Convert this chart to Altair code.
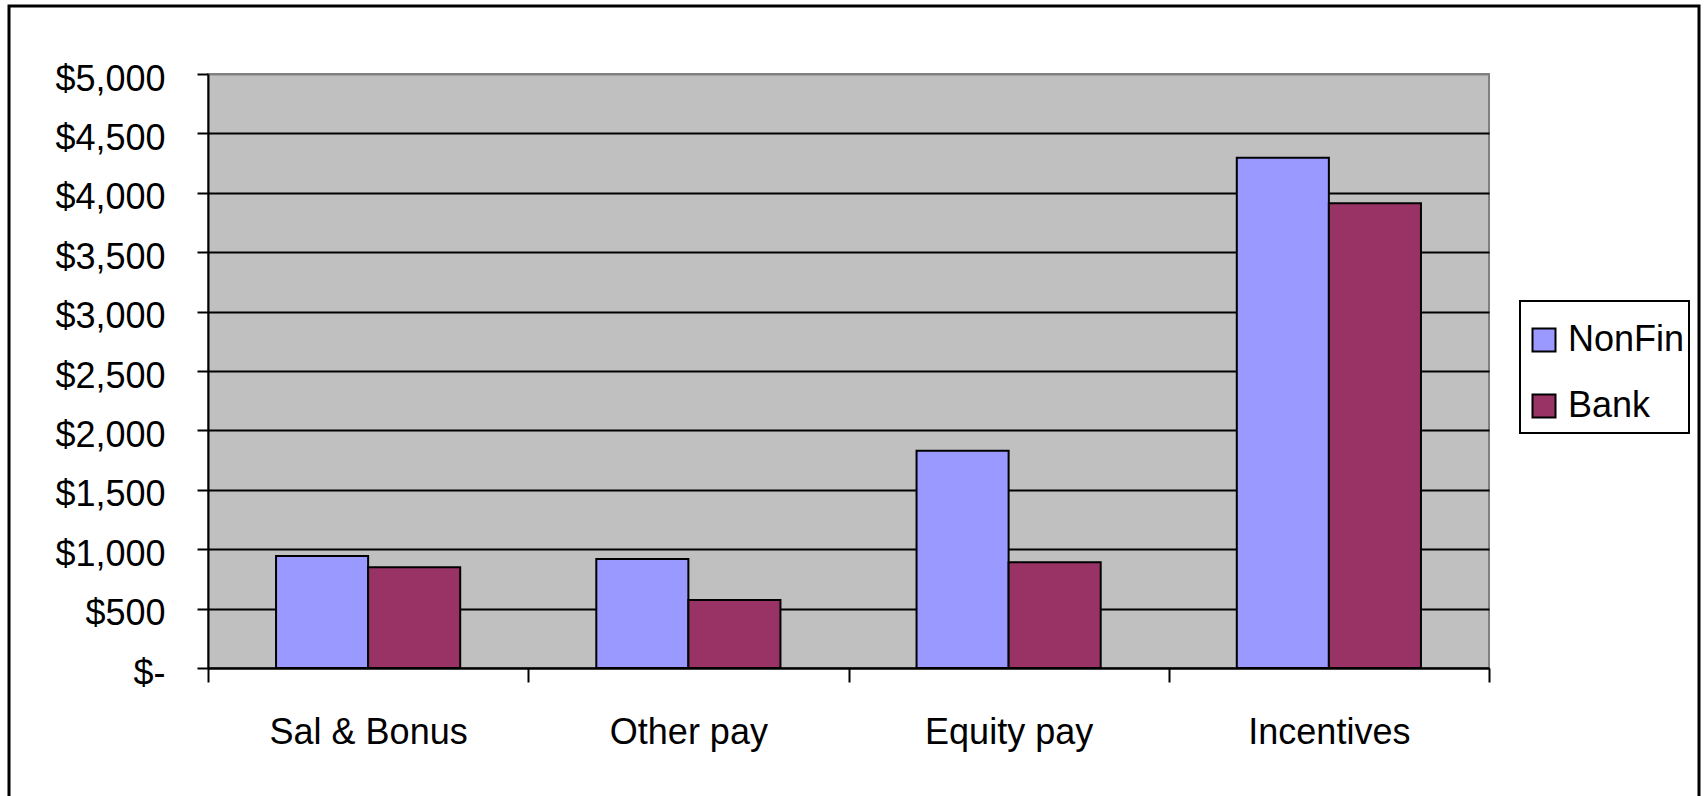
import altair as alt
import pandas as pd

categories = ["Sal & Bonus", "Other pay", "Equity pay", "Incentives"]
series = ["NonFin", "Bank"]
nonfin = [943, 917, 1829, 4296]
bank = [848, 572, 890, 3912]
colors = ["#9999FF", "#993366"]
y_ticks = [0, 500, 1000, 1500, 2000, 2500, 3000, 3500, 4000, 4500, 5000]

rows = []
for c, a, b in zip(categories, nonfin, bank):
    rows.append({"cat": c, "series": "NonFin", "value": a})
    rows.append({"cat": c, "series": "Bank", "value": b})
df = pd.DataFrame(rows)

FONT = "Liberation Sans"

bars = alt.Chart(df).mark_bar(stroke="black", strokeWidth=2, clip=False).encode(
    x=alt.X("cat:N", sort=categories,
            scale=alt.Scale(paddingInner=0, paddingOuter=0),
            axis=alt.Axis(title=None, labelAngle=0, labelFont=FONT, labelFontSize=36,
                          labelColor="black", labelPadding=33, labelLimit=0,
                          tickBand="extent",
                          tickSize=14, tickWidth=2, tickColor="black",
                          domainColor="black", domainWidth=2, grid=False)),
    xOffset=alt.XOffset("series:N", sort=series,
                        scale=alt.Scale(paddingOuter=0.739, paddingInner=0)),
    y=alt.Y("value:Q", scale=alt.Scale(domain=[0, 5000], nice=False),
            axis=alt.Axis(title=None, values=y_ticks, labelFont=FONT, labelFontSize=36,
                          labelColor="black", labelPadding=32, labelOffset=5, labelLimit=0,
                          labelExpr="datum.value == 0 ? '$-\u00a0\u00a0\u00a0\u00a0' : '$' + format(datum.value, ',')",
                          tickSize=11, tickWidth=2, tickColor="black",
                          domainColor="black", domainWidth=2,
                          grid=True,
                          gridColor=alt.condition("datum.value == 5000", alt.value("#808080"), alt.value("black")),
                          gridWidth=2)),
    fill=alt.Fill("series:N", sort=series,
                  scale=alt.Scale(domain=series, range=colors),
                  legend=alt.Legend(title=None, orient="none", legendX=1318, legendY=248,
                                    labelFont=FONT, labelFontSize=36, labelColor="black",
                                    labelLimit=0,
                                    symbolType="square", symbolSize=529,
                                    symbolStrokeColor="black", symbolStrokeWidth=2,
                                    symbolOpacity=1,
                                    labelOffset=6, rowPadding=30, padding=0)),
)

legend_box = alt.Chart(pd.DataFrame({"a": [0]})).mark_rect(
    fill="white", stroke="black", strokeWidth=2, clip=False
).encode(
    x=alt.value(1312), x2=alt.value(1481), y=alt.value(227), y2=alt.value(359)
)

border = alt.Chart(pd.DataFrame({"a": [0]})).mark_rect(
    fill="transparent", stroke="black", strokeWidth=3, clip=False
).encode(
    x=alt.value(-199), x2=alt.value(1491), y=alt.value(-68), y2=alt.value(735)
)

chart = alt.layer(bars, legend_box, border).properties(
    width=1281, height=594,
    autosize=alt.AutoSizeParams(type="none"),
    padding={"left": 208, "top": 74, "right": 216, "bottom": 128},
    background="white",
).configure_view(
    fill="#C0C0C0", stroke="#808080", strokeWidth=2
)

chart.save("out.html", embed_options={"renderer": "svg", "actions": False})
